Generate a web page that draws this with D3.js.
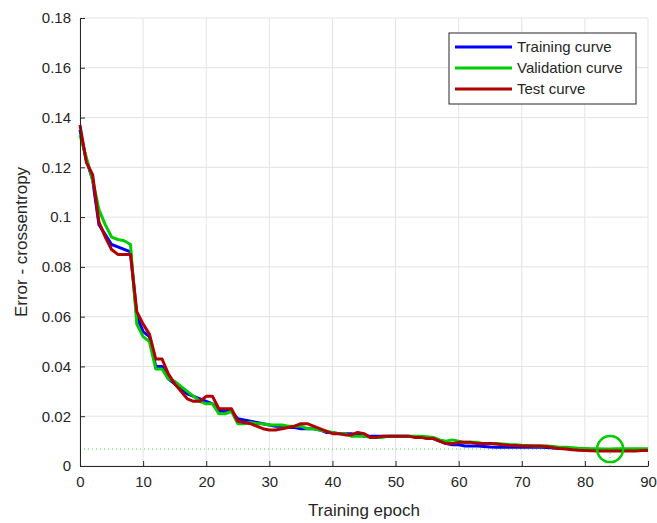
<!DOCTYPE html>
<html>
<head>
<meta charset="utf-8">
<script src="https://cdn.jsdelivr.net/npm/d3@7"></script>
<style>
  body { margin: 0; background: #fff; }
  text { font-family: "Liberation Sans", Arial, sans-serif; fill: #262626; }
</style>
</head>
<body>
<div class="chart"></div>
<script>
// values, one per epoch 0..90
const epochs = d3.range(0, 91);
const training = [0.135, 0.123, 0.115, 0.097, 0.093, 0.089, 0.088, 0.087, 0.086, 0.060,
  0.054, 0.052, 0.040, 0.040, 0.035, 0.033, 0.031, 0.029, 0.028, 0.027,
  0.026, 0.025, 0.022, 0.022, 0.022, 0.019, 0.0185, 0.018, 0.0175, 0.017,
  0.0165, 0.016, 0.016, 0.0155, 0.0155, 0.015, 0.015, 0.015, 0.0145, 0.0135,
  0.0135, 0.013, 0.013, 0.013, 0.0125, 0.012, 0.012, 0.012, 0.012, 0.012,
  0.012, 0.012, 0.012, 0.0118, 0.0115, 0.0112, 0.011, 0.010, 0.009, 0.0085,
  0.0085, 0.008, 0.008, 0.008, 0.0078, 0.0076, 0.0075, 0.0075, 0.0075, 0.0075,
  0.0075, 0.0075, 0.0075, 0.0075, 0.0074, 0.0072, 0.007, 0.007, 0.0068, 0.0066,
  0.0065, 0.0064, 0.0064, 0.0064, 0.0064, 0.0064, 0.0064, 0.0064, 0.0064, 0.0064, 0.0064];
const validation = [0.133, 0.124, 0.115, 0.103, 0.097, 0.092, 0.091, 0.0905, 0.089, 0.057,
  0.052, 0.050, 0.039, 0.039, 0.035, 0.034, 0.032, 0.030, 0.028, 0.026,
  0.025, 0.025, 0.021, 0.021, 0.022, 0.017, 0.017, 0.0175, 0.017, 0.017,
  0.0165, 0.0165, 0.0165, 0.016, 0.016, 0.016, 0.015, 0.015, 0.0145, 0.014,
  0.0135, 0.013, 0.013, 0.012, 0.012, 0.012, 0.0115, 0.0115, 0.0115, 0.012,
  0.012, 0.012, 0.012, 0.012, 0.012, 0.0118, 0.0115, 0.0105, 0.010, 0.0105,
  0.010, 0.0095, 0.0095, 0.0095, 0.009, 0.009, 0.009, 0.0088, 0.0086, 0.0085,
  0.0083, 0.0082, 0.008, 0.008, 0.008, 0.0078, 0.0075, 0.0075, 0.0073, 0.0071,
  0.007, 0.0069, 0.0069, 0.0068, 0.0068, 0.0069, 0.0069, 0.0069, 0.0069, 0.0069, 0.0069];
const test = [0.137, 0.122, 0.117, 0.098, 0.092, 0.087, 0.085, 0.085, 0.085, 0.062,
  0.057, 0.053, 0.043, 0.043, 0.037, 0.033, 0.030, 0.027, 0.026, 0.026,
  0.028, 0.028, 0.023, 0.023, 0.023, 0.018, 0.0175, 0.017, 0.016, 0.015,
  0.0145, 0.0145, 0.015, 0.0155, 0.016, 0.017, 0.017, 0.016, 0.015, 0.014,
  0.013, 0.013, 0.0125, 0.0125, 0.0135, 0.013, 0.0115, 0.0115, 0.012, 0.012,
  0.012, 0.012, 0.012, 0.0115, 0.0115, 0.011, 0.011, 0.010, 0.009, 0.009,
  0.0095, 0.0095, 0.0095, 0.009, 0.009, 0.009, 0.0088, 0.0085, 0.0083, 0.0082,
  0.008, 0.008, 0.008, 0.008, 0.0078, 0.0073, 0.007, 0.0068, 0.0065, 0.0063,
  0.0062, 0.0061, 0.006, 0.006, 0.006, 0.006, 0.006, 0.006, 0.006, 0.0062, 0.0062];
const seriesNames = ["Training curve", "Validation curve", "Test curve"];
const seriesColors = ["#0000ff", "#00cc00", "#b00000"];
const xTicks = [0, 10, 20, 30, 40, 50, 60, 70, 80, 90];
const yTicks = [0, 0.02, 0.04, 0.06, 0.08, 0.1, 0.12, 0.14, 0.16, 0.18];
const bestEpoch = 84;
const bestValue = 0.0068;

const width = 657, height = 523;
const margin = {left: 80, right: 9, top: 18, bottom: 57};

const svg = d3.select(".chart").append("svg")
  .attr("width", width).attr("height", height);

const x = d3.scaleLinear().domain([0, 90]).range([margin.left, width - margin.right]);
const y = d3.scaleLinear().domain([0, 0.18]).range([height - margin.bottom, margin.top]);

// grid
svg.append("g").selectAll("line").data(xTicks).enter().append("line")
  .attr("x1", d => x(d)).attr("x2", d => x(d))
  .attr("y1", y(0)).attr("y2", y(0.18))
  .attr("stroke", "#e3e3e3").attr("stroke-width", 1);
svg.append("g").selectAll("line").data(yTicks).enter().append("line")
  .attr("x1", x(0)).attr("x2", x(90))
  .attr("y1", d => y(d)).attr("y2", d => y(d))
  .attr("stroke", "#e3e3e3").attr("stroke-width", 1);

// best validation marker lines
svg.append("line")
  .attr("x1", x(0)).attr("x2", x(90))
  .attr("y1", y(bestValue)).attr("y2", y(bestValue))
  .attr("stroke", "#33dd33").attr("stroke-width", 1).attr("stroke-dasharray", "1,3");
svg.append("line")
  .attr("x1", x(bestEpoch)).attr("x2", x(bestEpoch))
  .attr("y1", y(bestValue)).attr("y2", y(0))
  .attr("stroke", "#33dd33").attr("stroke-width", 1).attr("stroke-dasharray", "1,3");

// curves
const line = d3.line().x((d, i) => x(epochs[i])).y(d => y(d));
[training, validation, test].forEach((s, i) => {
  svg.append("path").datum(s)
    .attr("d", line)
    .attr("fill", "none")
    .attr("stroke", seriesColors[i])
    .attr("stroke-width", 3)
    .attr("stroke-linejoin", "round");
});

svg.append("circle")
  .attr("cx", x(bestEpoch)).attr("cy", y(bestValue)).attr("r", 13)
  .attr("fill", "none").attr("stroke", "#00cc00").attr("stroke-width", 2.5);

// axes
const xAxis = d3.axisBottom(x).tickValues(xTicks).tickSizeInner(-5).tickSizeOuter(0).tickPadding(10);
const yAxis = d3.axisLeft(y).tickValues(yTicks).tickSizeInner(-5).tickSizeOuter(0).tickPadding(9)
  .tickFormat(d => d === 0 ? "0" : String(+d.toFixed(2)));

const gx = svg.append("g").attr("transform", "translate(0," + y(0) + ")").call(xAxis);
const gy = svg.append("g").attr("transform", "translate(" + x(0) + ",0)").call(yAxis);
[gx, gy].forEach(g => {
  g.select(".domain").attr("stroke", "#262626").attr("stroke-width", 1);
  g.selectAll(".tick line").attr("stroke", "#262626");
  g.selectAll(".tick text").attr("font-size", 15).attr("fill", "#262626")
    .attr("font-family", "Liberation Sans, Arial, sans-serif");
});

svg.append("text")
  .attr("x", x(45)).attr("y", 516)
  .attr("text-anchor", "middle").attr("font-size", 17)
  .text("Training epoch");
svg.append("text")
  .attr("transform", "translate(27," + y(0.09) + ") rotate(-90)")
  .attr("text-anchor", "middle").attr("font-size", 17)
  .text("Error - crossentropy");

// legend
const legend = svg.append("g").attr("transform", "translate(449,33)");
legend.append("rect").attr("width", 187).attr("height", 71)
  .attr("fill", "#fff").attr("stroke", "#262626").attr("stroke-width", 1);
seriesNames.forEach((n, i) => {
  const ly = 14 + i * 21;
  legend.append("line").attr("x1", 6).attr("x2", 63).attr("y1", ly).attr("y2", ly)
    .attr("stroke", seriesColors[i]).attr("stroke-width", 3);
  legend.append("text").attr("x", 68).attr("y", ly + 5).attr("font-size", 15).text(n);
});
</script>
</body>
</html>
